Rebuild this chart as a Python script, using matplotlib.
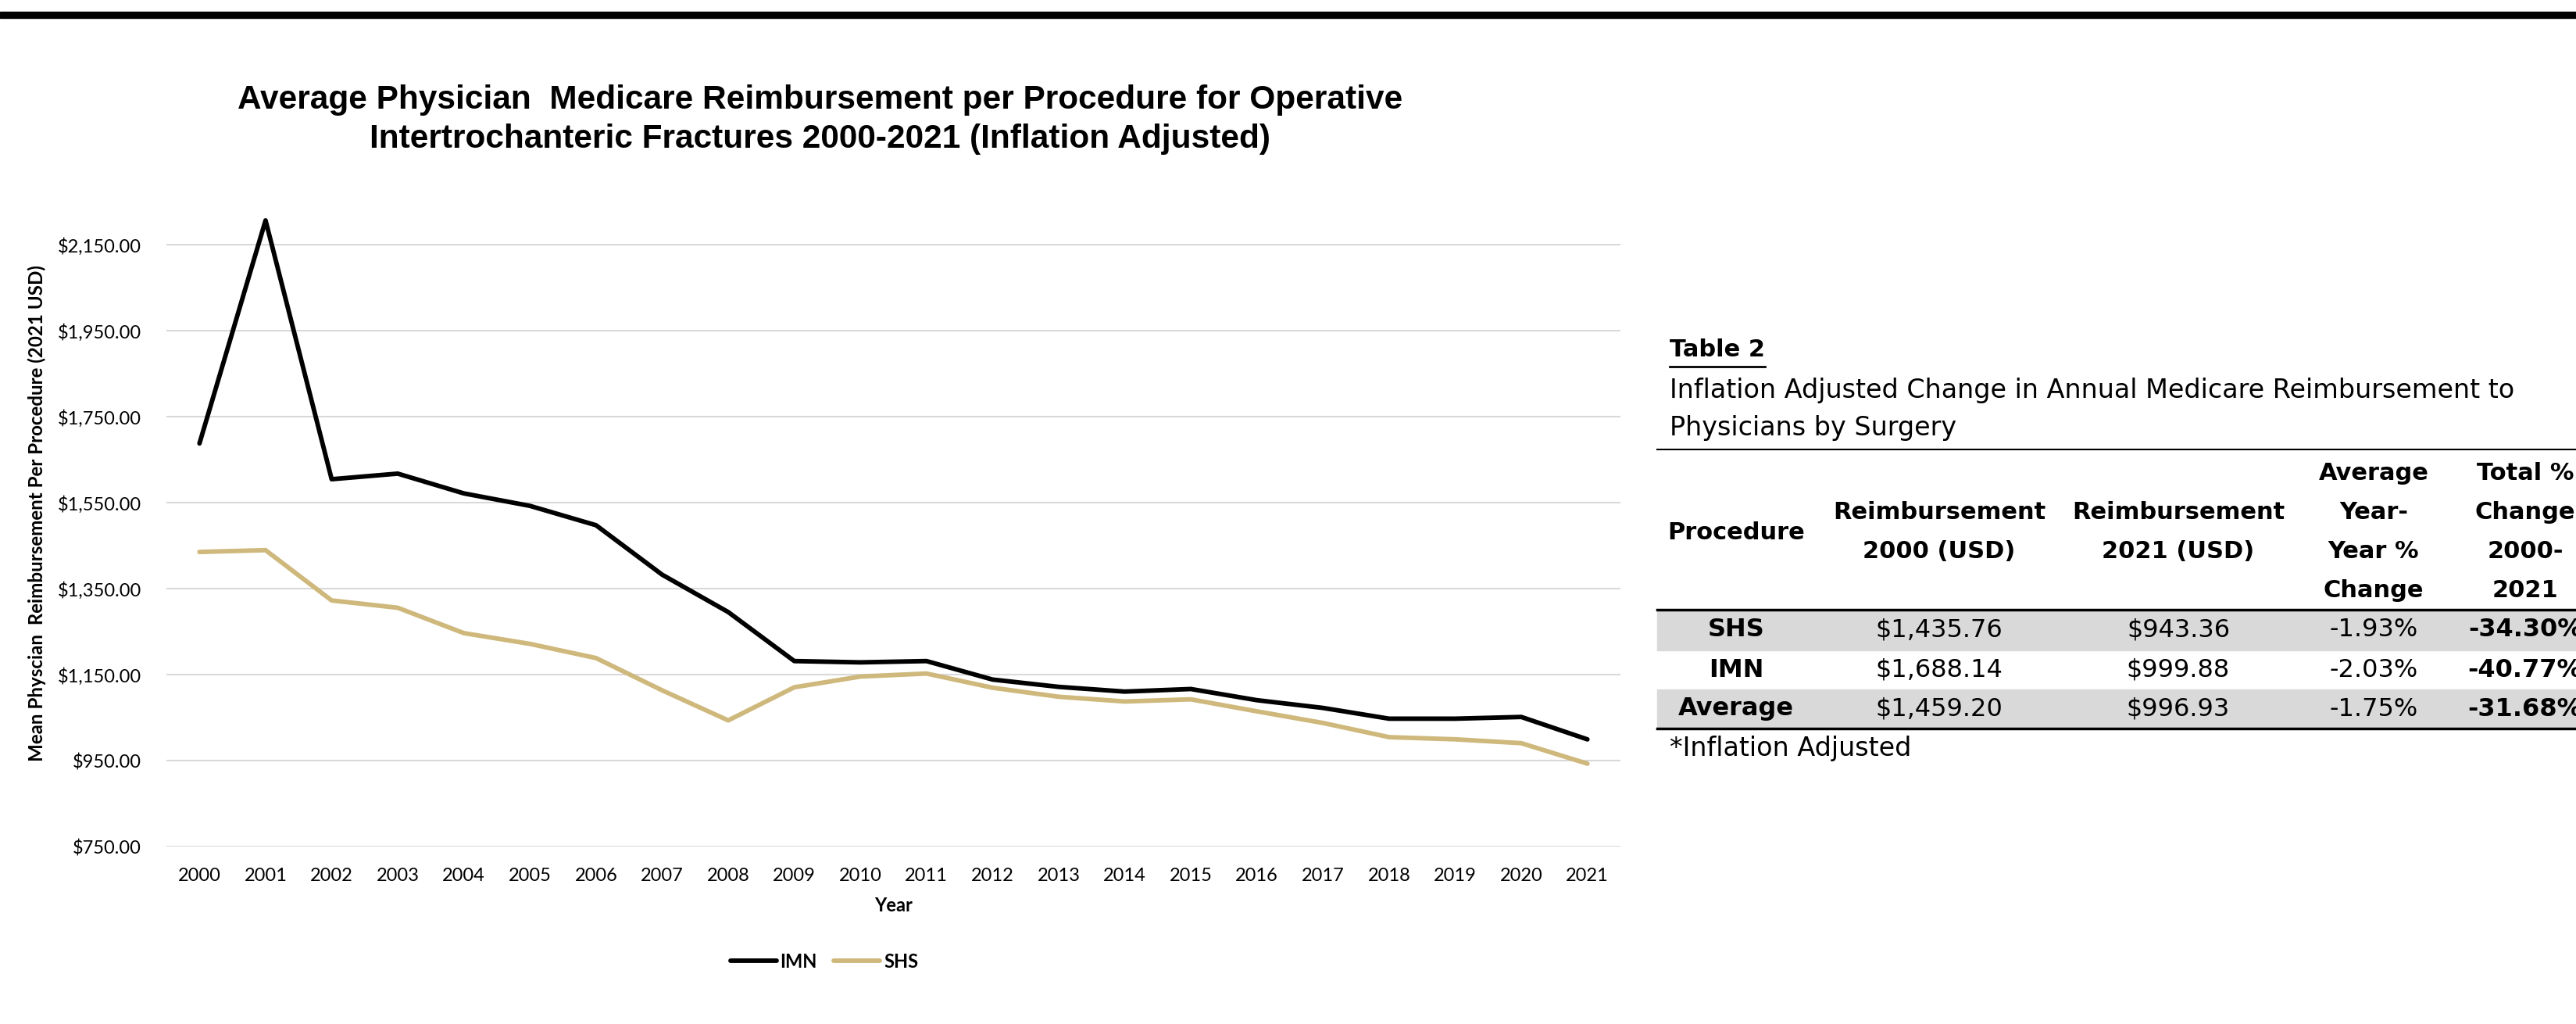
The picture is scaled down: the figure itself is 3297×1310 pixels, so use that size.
import numpy as np
import matplotlib.pyplot as plt
from matplotlib.patches import Rectangle
from matplotlib.lines import Line2D
from matplotlib.ticker import FuncFormatter

# %% data
years = np.arange(2000, 2022)
imn = [1688.14, 2207, 1605, 1618, 1572, 1543, 1498, 1383, 1296, 1182, 1179,
       1182, 1139, 1122, 1111, 1117, 1091, 1073, 1048, 1048, 1052, 999.88]
shs = [1435.76, 1440, 1323, 1306, 1247, 1222, 1189, 1114, 1044, 1121, 1146,
       1153, 1120, 1099, 1088, 1093, 1065, 1038, 1005, 1000, 991, 943.36]
y_ticks = [750, 950, 1150, 1350, 1550, 1750, 1950, 2150]

procedures = ["SHS", "IMN", "Average"]
reimb_2000 = [1435.76, 1688.14, 1459.20]
reimb_2021 = [943.36, 999.88, 996.93]
avg_yoy = [-1.93, -2.03, -1.75]
total_change = [-34.30, -40.77, -31.68]
headers = [["Procedure"], ["Reimbursement", "2000 (USD)"], ["Reimbursement", "2021 (USD)"],
           ["Average", "Year-", "Year %", "Change"], ["Total %", "Change", "2000-", "2021"]]

GOLD = "#CFB87C"
W, H = 3298, 1310
plt.rcParams['font.family'] = ['Lato', 'DejaVu Sans']

fig = plt.figure(figsize=(W / 100, H / 100), dpi=100)

# %% line chart
ax = fig.add_axes([213 / W, 1 - 1083.3 / H, (2074 - 213) / W, (1083.3 - 258.3) / H])
ax.plot(years, imn, color="black", lw=4.2, solid_capstyle="round", solid_joinstyle="round", label="IMN")
ax.plot(years, shs, color=GOLD, lw=4.2, solid_capstyle="round", solid_joinstyle="round", label="SHS")
ax.set_xlim(1999.5, 2021.5)
ax.set_ylim(750, 2250)
ax.set_xticks(years)
ax.set_yticks(y_ticks)
ax.yaxis.set_major_formatter(FuncFormatter(lambda v, p: f"${v:,.2f}"))
ax.grid(axis="y", color="#D9D9D9", lw=1.5)
ax.set_axisbelow(True)
for s in ax.spines.values():
    s.set_visible(False)
ax.tick_params(axis="x", length=0, labelsize=17, pad=19)
ax.tick_params(axis="y", length=0, labelsize=17, pad=23)

ax.set_ylabel("Mean Physcian  Reimbursement Per Procedure (2021 USD)", fontsize=17.4,
              fontweight="bold", va="center")
ax.yaxis.set_label_coords((47 - 213) / 1861, (1083.3 - 657) / 825)
ax.set_xlabel("Year", fontsize=17, fontweight="bold", va="center")
ax.xaxis.set_label_coords(0.5, (1083.3 - 1159) / 825)

fig.legend(handles=[Line2D([], [], color="black", lw=4.2, solid_capstyle="round"),
                    Line2D([], [], color=GOLD, lw=4.2, solid_capstyle="round")],
           labels=["IMN", "SHS"], loc="center", bbox_to_anchor=(1055 / W, 1 - 1230 / H),
           ncol=2, frameon=False, handlelength=2.5, handletextpad=0.2, columnspacing=0.9,
           prop={"weight": "bold", "size": 17})

fig.text(1050 / W, 1 - 153 / H,
         "Average Physician  Medicare Reimbursement per Procedure for Operative\n"
         "Intertrochanteric Fractures 2000-2021 (Inflation Adjusted)",
         ha="center", va="center", fontsize=30.5, fontweight="bold",
         family="Liberation Sans", linespacing=1.3)

# %% table (pixel coordinates on an overlay axes)
tx = fig.add_axes([0, 0, 1, 1])
tx.set_xlim(0, W)
tx.set_ylim(H, 0)
tx.axis("off")

tx.add_patch(Rectangle((0, 15), W, 8, color="black"))

tf = {"family": ["DejaVu Sans"]}
t2 = tx.text(2137, 448, "Table 2", fontsize=22, fontweight="bold", va="center", **tf)
tx.text(2137, 500, "Inflation Adjusted Change in Annual Medicare Reimbursement to",
        fontsize=24, va="center", **tf)
tx.text(2137, 548, "Physicians by Surgery", fontsize=24, va="center", **tf)

fig.canvas.draw()
bb = t2.get_window_extent()
tx.plot([2137, 2137 + bb.width], [469, 469], color="black", lw=2)

tx.plot([2121, W], [575, 575], color="black", lw=1.5)
tx.plot([2121, W], [780, 780], color="black", lw=2.5)
tx.plot([2121, W], [932, 932], color="black", lw=2.5)

col_x = [2222, 2482, 2788, 3038, 3232]
for cx, lines in zip(col_x, headers):
    n = len(lines)
    for i, line in enumerate(lines):
        tx.text(cx, 681 + (i - (n - 1) / 2) * 50, line, ha="center", va="center",
                fontsize=22, fontweight="bold", **tf)

row_top = [780, 832, 882]
row_h = [52, 50, 50]
for i, proc in enumerate(procedures):
    if i % 2 == 0:
        tx.add_patch(Rectangle((2121, row_top[i]), W - 2121, row_h[i], color="#D9D9D9", zorder=0))
    yc = row_top[i] + row_h[i] / 2
    cells = [proc, f"${reimb_2000[i]:,.2f}", f"${reimb_2021[i]:,.2f}",
             f"{avg_yoy[i]:.2f}%", f"{total_change[i]:.2f}%"]
    for j, (cx, c) in enumerate(zip(col_x, cells)):
        tx.text(cx, yc, c, ha="center", va="center", fontsize=23,
                fontweight="bold" if j in (0, 4) else "normal", **tf)

tx.text(2137, 958, "*Inflation Adjusted", fontsize=24, va="center", **tf)

fig.savefig("out.png", dpi=100)
